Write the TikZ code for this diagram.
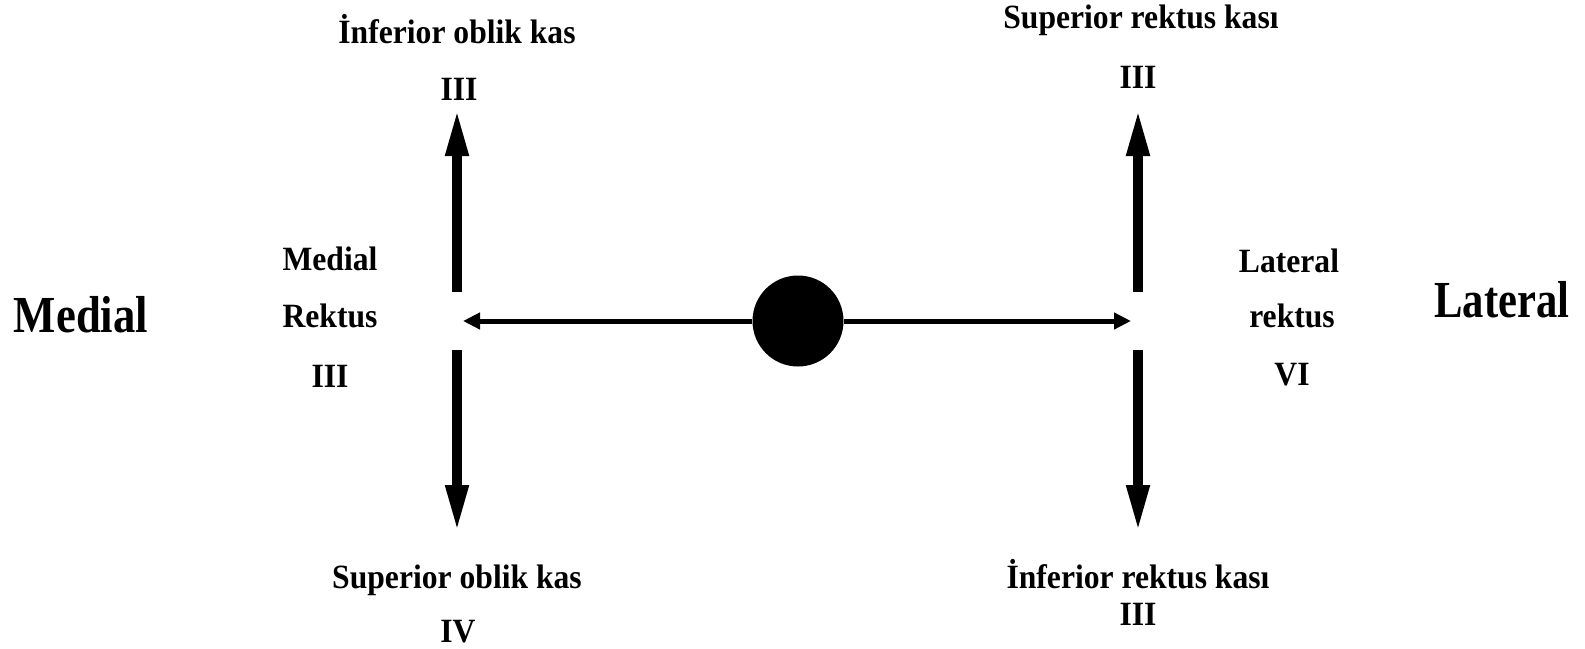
\documentclass[tikz,border=0pt]{standalone}
\usepackage{fontspec}
\setmainfont{Liberation Serif}
\newfontfamily\labfont{Liberation Serif}[FakeStretch=0.93]
\newfontfamily\bigfont{Liberation Serif}[FakeStretch=0.82]
\newfontfamily\bigfontw{Liberation Serif}[FakeStretch=0.86]
\usetikzlibrary{arrows.meta}
\begin{document}
\begin{tikzpicture}[x=1pt,y=-1pt,
  lab/.style={inner sep=0pt,anchor=base,font=\labfont\bfseries\fontsize{34}{36}\selectfont},
  biglab/.style={inner sep=0pt,anchor=base,font=\bigfont\bfseries\fontsize{52}{54}\selectfont},
  biglabw/.style={inner sep=0pt,anchor=base,font=\bigfontw\bfseries\fontsize{52}{54}\selectfont},
  varrow/.style={line width=10pt,-{Triangle[length=48pt,width=21pt]}},
  harrow/.style={line width=5pt,-{Triangle[length=17pt,width=16pt]}},
  ball/.style={circle,fill=black,minimum size=91pt,inner sep=0pt}]
\useasboundingbox (0,0) rectangle (1585,648);
% centre
\node[ball] (c) at (798,321) {};
\coordinate (hl) at (463,321);
\coordinate (hr) at (1131,321);
\draw[harrow] (c) -- (hl);
\draw[harrow] (c) -- (hr);
% vertical arrows
\coordinate (lus) at (457,292); \coordinate (lut) at (457,108);
\coordinate (lds) at (457,350); \coordinate (ldt) at (457,533);
\coordinate (rus) at (1138,292); \coordinate (rut) at (1138,108);
\coordinate (rds) at (1138,350); \coordinate (rdt) at (1138,533);
\draw[varrow] (lus) -- (lut);
\draw[varrow] (lds) -- (ldt);
\draw[varrow] (rus) -- (rut);
\draw[varrow] (rds) -- (rdt);
% labels
\node[lab] (io) at (457,43) {İnferior oblik kas};
\node[lab] (io3) at (459,100) {III};
\node[lab] (sr) at (1141,28) {Superior rektus kası};
\node[lab] (sr3) at (1138,88) {III};
\node[lab] (mr1) at (330,270) {Medial};
\node[lab] (mr2) at (330,327) {Rektus};
\node[lab] (mr3) at (330,387) {III};
\node[lab] (lr1) at (1289,272) {Lateral};
\node[lab] (lr2) at (1292,327) {rektus};
\node[lab] (lr3) at (1292,385) {VI};
\node[lab] (so) at (457,588) {Superior oblik kas};
\node[lab] (so4) at (458,642) {IV};
\node[lab] (ir) at (1138,588) {İnferior rektus kası};
\node[lab] (ir3) at (1138,625) {III};
\node[biglabw] (med) at (81,332) {Medial};
\node[biglab] (lat) at (1502,317) {Lateral};
\end{tikzpicture}
\end{document}
